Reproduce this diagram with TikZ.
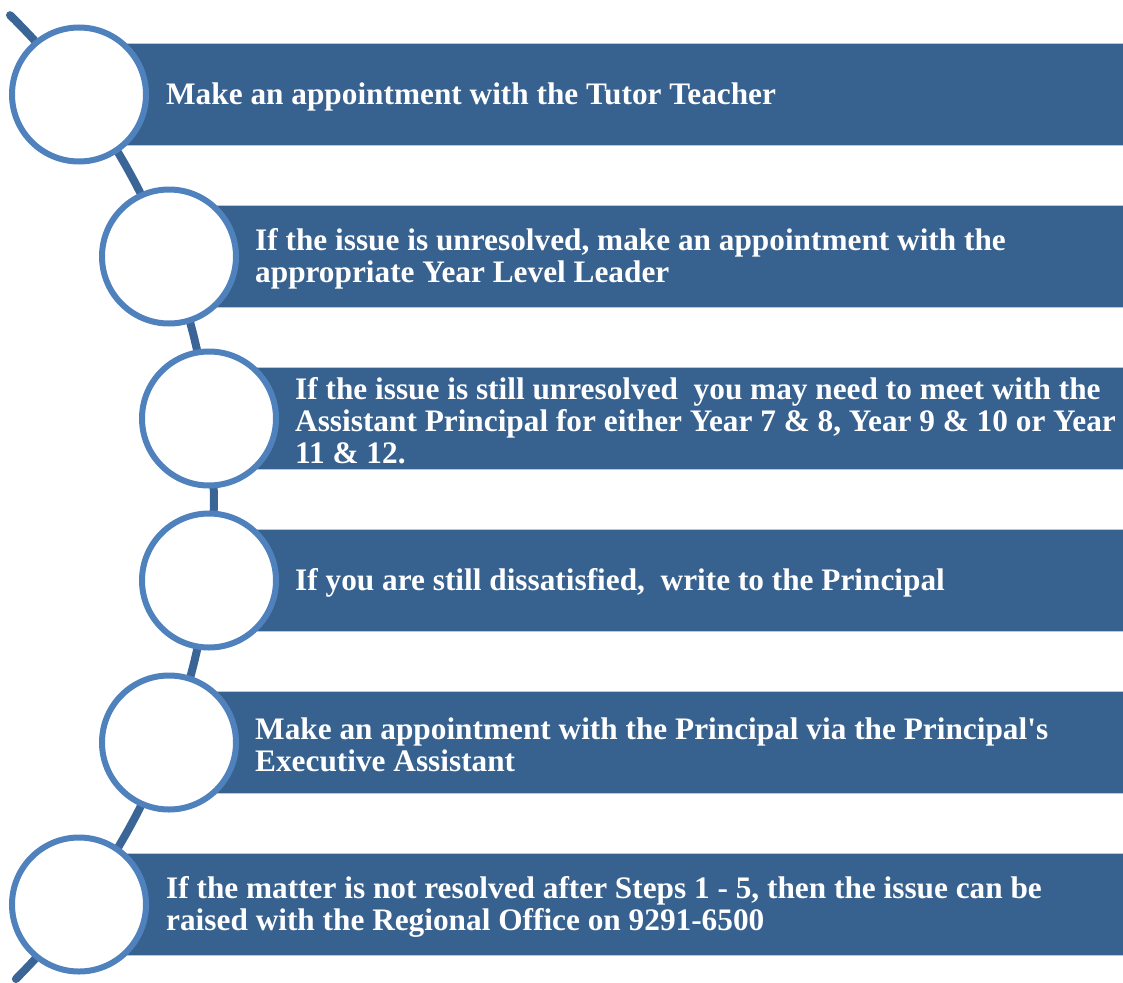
\documentclass[tikz,border=0pt]{standalone}
\usepackage{fontspec}
\setmainfont{Liberation Serif}[Ligatures=TeXOff]
\definecolor{barblue}{HTML}{37618F}
\definecolor{ringblue}{HTML}{4F81BD}
\definecolor{arcblue}{HTML}{3B6596}
\begin{document}
\begin{tikzpicture}[x=1pt,y=-1pt,
  bar/.style={fill=barblue, draw=barblue!35!white, line width=0.8pt},
  ring/.style={circle, draw=ringblue, fill=white, line width=6pt, minimum size=134pt, inner sep=0pt},
  steptext/.style={anchor=west, text=white, align=left, font=\bfseries\fontsize{31.3}{32}\selectfont, inner sep=0pt},
  arcline/.style={draw=arcblue, line width=8pt, line cap=round}]
\useasboundingbox (0,0) rectangle (1123,982);
% background arc
\draw[arcline] plot[domain=-45.6:44.9, samples=150, smooth] ({-464.75+678.6*cos(\x)},{500+678.6*sin(\x)});
% bars
\draw[bar] (79,43.5) rectangle (1123,145.5);
\draw[bar] (169,205.5) rectangle (1123,307.5);
\draw[bar] (209,367.5) rectangle (1123,469.5);
\draw[bar] (209,529.5) rectangle (1123,631.5);
\draw[bar] (169,691.5) rectangle (1123,793.5);
\draw[bar] (79,853.5) rectangle (1123,955.5);
% circles
\node[ring] (c1) at (79,94.5) {};
\node[ring] (c2) at (169,256.5) {};
\node[ring] (c3) at (209,418.5) {};
\node[ring] (c4) at (209,580.5) {};
\node[ring] (c5) at (169,742.5) {};
\node[ring] (c6) at (79,904.5) {};
% texts
\node[steptext] (t1) at (166,97) {Make an appointment with the Tutor Teacher};
\node[steptext] (t2) at (255,259) {If the issue is unresolved, make an appointment with the\\appropriate Year Level Leader};
\node[steptext] (t3) at (295,421) {If the issue is still unresolved\ \ you may need to meet with the\\Assistant Principal for either Year 7 \& 8, Year 9 \& 10 or Year\\11 \& 12.};
\node[steptext] (t4) at (295,583) {If you are still dissatisfied,\ \ write to the Principal};
\node[steptext] (t5) at (255,745) {Make an appointment with the Principal via the Principal's\\Executive Assistant};
\node[steptext] (t6) at (166,907) {If the matter is not resolved after Steps 1 - 5, then the issue can be\\raised with the Regional Office on 9291-6500};
\end{tikzpicture}
\end{document}
